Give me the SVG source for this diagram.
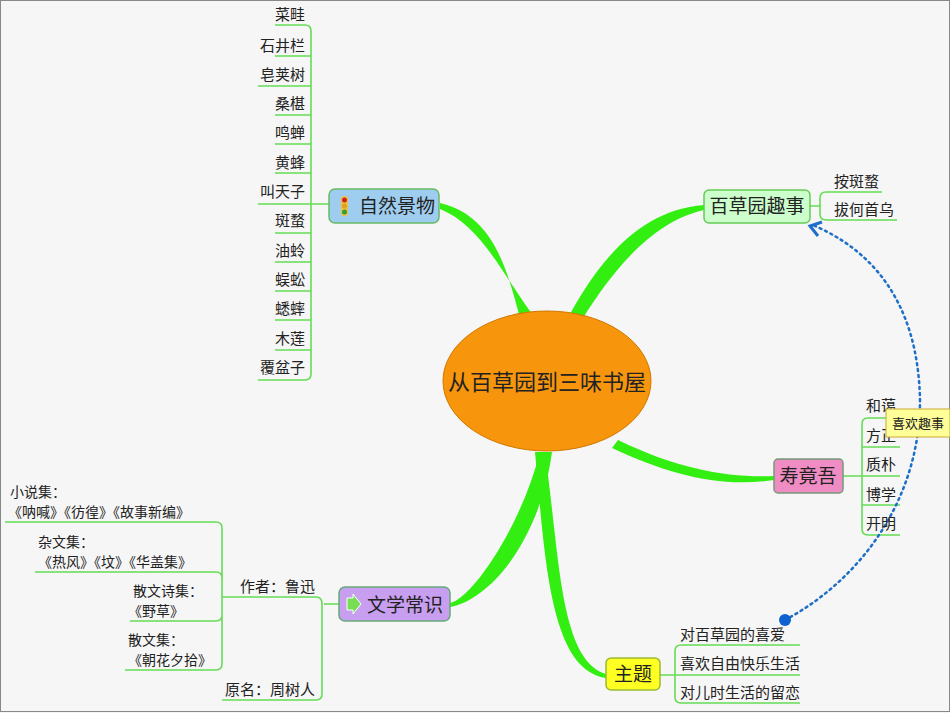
<svg xmlns="http://www.w3.org/2000/svg" width="950" height="713" viewBox="0 0 950 713">
<style>
text{font-family:"Noto Sans CJK SC","Liberation Serif",serif;fill:#222}
.lf{font-size:15px}
.sm{font-size:14px}
.nd{font-size:19px}
.ln{fill:none;stroke:#66dd55;stroke-width:1.6}
.br{fill:#33ee11}
</style>
<rect width="950" height="713" fill="#f6f6f6"/>
<rect x="0.5" y="0.5" width="949" height="711" fill="none" stroke="#888"/>
<g id="connectors">
<path class="br" d="M520,318 C505,260 490,215 440,203 L440,209 C480,225 500,270 532,314 Z"/>
<path class="br" d="M570,314 C600,260 640,210 704,205 L704,210 C650,222 610,275 583,318 Z"/>
<path class="br" d="M618,440 C680,470 730,478 774,476 L774,480 C720,488 670,475 612,448 Z"/>
<path class="br" d="M540,452 C520,530 470,600 450,603 L450,607 C490,600 540,540 552,452 Z"/>
<path class="br" d="M545,452 C560,560 560,660 606,674 L606,678 C550,670 545,560 535,452 Z"/>
<path class="ln" d="M329,204 H258 M311,204 V31 Q311,25 305,25 H275 M311,204 V374 Q311,380 305,380 H258"/>
<path class="ln" d="M275,56 H311 M258,86 H311 M275,115 H311 M275,144 H311 M275,173 H311 M275,233 H311 M275,262 H311 M275,291 H311 M275,320 H311 M275,350 H311"/>
<path class="ln" d="M810,206 H820 M820,213 V198 Q820,192 826,192 H882 M820,206 V214 Q820,220 826,220 H897"/>
<path class="ln" d="M843,476 H862 M862,476 V424 Q862,418 868,418 H900 M862,476 V529 Q862,535 868,535 H900 M862,447 H900 M862,476 H900 M862,505 H900"/>
<path class="ln" d="M339,604 H324 M322,604 Q322,597 316,597 H222 M322,604 V694 Q322,700 316,700 H222"/>
<path class="ln" d="M222,597 V528 Q222,522 216,522 H5 M222,597 V578 Q222,572 216,572 H35 M222,597 V615 Q222,621 216,621 H130 M222,597 V664 Q222,670 216,670 H125"/>
<path class="ln" d="M660,675 H675 M675,675 V651 Q675,645 681,645 H800 M675,675 V697 Q675,703 681,703 H800 M675,675 H800"/>
<path d="M785,620 C860,580 920,500 920,400 C918,300 870,250 815,226" fill="none" stroke="#1e6fc8" stroke-width="2.5" stroke-dasharray="2,4" stroke-linecap="round"/>
<path d="M822,222 L810,226 L818,236" fill="none" stroke="#1e6fc8" stroke-width="3"/>
<circle cx="785" cy="620" r="6" fill="#1060d0"/>
</g>
<g id="center"><ellipse cx="547" cy="381" rx="104" ry="70" fill="#f7960c" stroke="#d07800"/><text x="547" y="390" font-size="22" text-anchor="middle">从百草园到三味书屋</text></g>
<g id="n1"><rect x="329" y="189" width="110" height="34" rx="6" fill="#9fcdf0" stroke="#66bb66" stroke-width="1.5"/>
<rect x="341" y="196" width="7" height="20" rx="3" fill="#f0c040"/><circle cx="344.5" cy="200" r="2.5" fill="#d02020"/><circle cx="344.5" cy="206" r="2.5" fill="#e0a020"/><circle cx="344.5" cy="212" r="2.5" fill="#30a030"/>
<text x="359" y="213" class="nd">自然景物</text></g>
<g id="n1leaves" text-anchor="end">
<text x="305" y="20" class="lf">菜畦</text><text x="305" y="51" class="lf">石井栏</text><text x="305" y="80" class="lf">皂荚树</text><text x="305" y="109" class="lf">桑椹</text><text x="305" y="138" class="lf">鸣蝉</text><text x="305" y="168" class="lf">黄蜂</text><text x="305" y="197" class="lf">叫天子</text><text x="305" y="226" class="lf">斑蝥</text><text x="305" y="256" class="lf">油蛉</text><text x="305" y="285" class="lf">蜈蚣</text><text x="305" y="314" class="lf">蟋蟀</text><text x="305" y="344" class="lf">木莲</text><text x="305" y="373" class="lf">覆盆子</text></g>
<g id="n2"><rect x="704" y="190" width="106" height="33" rx="5" fill="#ccffcc" stroke="#66cc55" stroke-width="1.5"/><text x="757" y="213" class="nd" text-anchor="middle">百草园趣事</text>
<text x="834" y="187" class="lf">按斑蝥</text><text x="834" y="215" class="lf">拔何首乌</text></g>
<g id="n3"><rect x="774" y="459" width="69" height="34" rx="4" fill="#f08cc4" stroke="#779977" stroke-width="1.5"/><text x="808" y="483" class="nd" text-anchor="middle">寿竟吾</text>
<text x="866" y="411" class="lf">和蔼</text><text x="866" y="441" class="lf">方正</text><text x="866" y="470" class="lf">质朴</text><text x="866" y="500" class="lf">博学</text><text x="866" y="529" class="lf">开明</text></g>
<g id="label"><rect x="886" y="409" width="64" height="28" fill="#ffff99" stroke="#ccaa33"/><text x="918" y="428" font-size="13" text-anchor="middle">喜欢趣事</text></g>
<g id="n4"><rect x="339" y="587" width="111" height="34" rx="6" fill="#c89ef0" stroke="#66aa77" stroke-width="1.5"/>
<path d="M347,598 h6 v-4 l8,10 l-8,10 v-4 h-6 z" fill="#77dd55" stroke="#fff"/>
<text x="367" y="612" class="nd">文学常识</text>
<text x="240" y="592" class="lf">作者：鲁迅</text><text x="225" y="695" class="lf">原名：周树人</text>
<text x="10" y="497" class="sm">小说集：</text><text x="8" y="517" class="sm">《呐喊》《彷徨》《故事新编》</text>
<text x="38" y="547" class="sm">杂文集：</text><text x="38" y="567" class="sm">《热风》《坟》《华盖集》</text>
<text x="133" y="596" class="sm">散文诗集：</text><text x="128" y="616" class="sm">《野草》</text>
<text x="128" y="645" class="sm">散文集：</text><text x="128" y="665" class="sm">《朝花夕拾》</text></g>
<g id="n5"><rect x="606" y="658" width="54" height="32" rx="5" fill="#ffff22" stroke="#99bb33" stroke-width="1.5"/><text x="633" y="681" class="nd" text-anchor="middle">主题</text>
<text x="680" y="640" class="lf">对百草园的喜爱</text><text x="680" y="669" class="lf">喜欢自由快乐生活</text><text x="680" y="698" class="lf">对儿时生活的留恋</text></g>
</svg>
